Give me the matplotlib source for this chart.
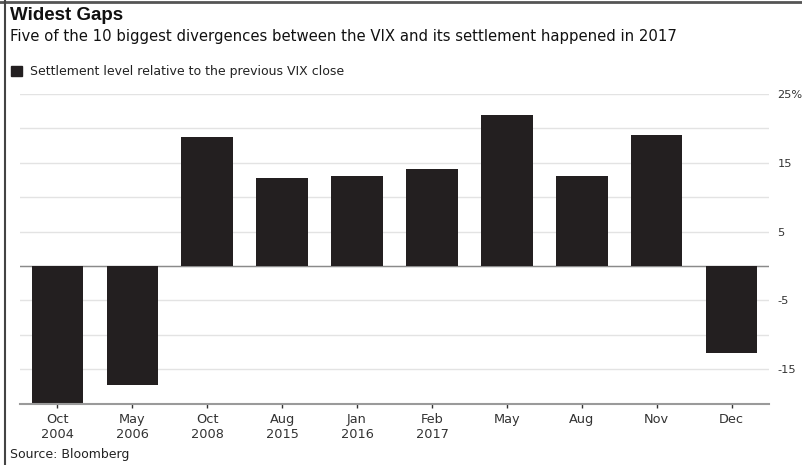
import matplotlib.pyplot as plt
from matplotlib.patches import Rectangle

plt.rcParams['font.family'] = ['DejaVu Sans']

# data
labels = ['Oct\n2004', 'May\n2006', 'Oct\n2008', 'Aug\n2015', 'Jan\n2016',
          'Feb\n2017', 'May', 'Aug', 'Nov', 'Dec']
gaps = [-20.0, -17.3, 18.8, 12.8, 13.1, 14.1, 21.9, 13.1, 19.0, -12.6]
yticks = [25, 15, 5, -5, -15]
ytick_labels = ['25%', '15', '5', '-5', '-15']

fig = plt.figure(figsize=(8.03, 4.65), dpi=100)
ax = fig.add_axes([20 / 803, 1 - 403.6 / 465, 749 / 803, (403.6 - 94) / 465])

x = range(len(gaps))
ax.bar(x, gaps, width=0.69, color='#231f20', zorder=3)

ax.set_xlim(-0.5, 9.5)
ax.set_ylim(-20, 25)

for g in range(-15, 30, 5):
    ax.axhline(g, color='#e3e3e3', lw=1, zorder=1)
ax.axhline(0, color='#8a8a8a', lw=1, zorder=2)

ax.yaxis.tick_right()
ax.set_yticks(yticks)
ax.set_yticklabels(ytick_labels, fontsize=8.2, color='#333333')
ax.tick_params(axis='y', length=0, pad=6)

ax.set_xticks(list(x))
ax.set_xticklabels(labels, fontsize=9.3, color='#333333', linespacing=1.2)
ax.tick_params(axis='x', length=3, width=1, color='#333333', pad=4)

for s in ['top', 'left', 'right']:
    ax.spines[s].set_visible(False)
ax.spines['bottom'].set_color('#9a9a9a')
ax.spines['bottom'].set_linewidth(1.5)
ax.spines['bottom'].set_zorder(4)

fig.text(10 / 803, 1 - 15 / 465, 'Widest Gaps', fontsize=13.5, fontweight='bold',
         family='Liberation Sans', va='center', color='#111111')
fig.text(10 / 803, 1 - 36 / 465,
         'Five of the 10 biggest divergences between the VIX and its settlement happened in 2017',
         fontsize=10.7, va='center', color='#111111')
fig.patches.append(Rectangle((11 / 803, 1 - 76 / 465), 11 / 803, 10 / 465,
                             transform=fig.transFigure, color='#231f20'))
fig.text(30 / 803, 1 - 71 / 465, 'Settlement level relative to the previous VIX close',
         fontsize=9, va='center', color='#222222')
fig.text(10 / 803, 1 - 454 / 465, 'Source: Bloomberg', fontsize=9, va='center',
         color='#222222')

# frame lines at the top and left edge
fig.add_artist(plt.Line2D([0, 1], [1 - 2 / 465, 1 - 2 / 465], color='#555555', lw=2))
fig.add_artist(plt.Line2D([5 / 803, 5 / 803], [0, 1], color='#444444', lw=1.5))

fig.savefig('out.png', dpi=100)
